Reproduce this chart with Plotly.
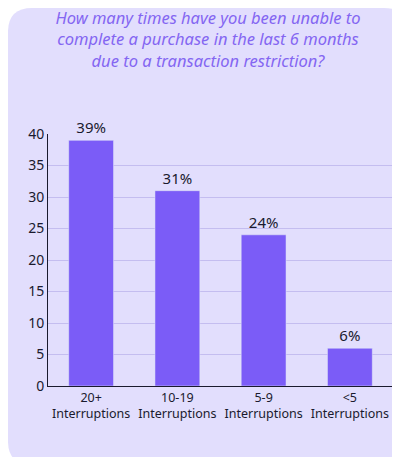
import plotly.graph_objects as go

categories = ["20+<br>Interruptions", "10-19<br>Interruptions", "5-9<br>Interruptions", "<5<br>Interruptions"]
values = [39, 31, 24, 6]
labels = ["39%", "31%", "24%", "6%"]
yticks = [0, 5, 10, 15, 20, 25, 30, 35, 40]

fig = go.Figure(go.Bar(
    x=categories, y=values, text=labels, textposition="outside",
    textfont=dict(size=15, color="#1a1a2e", family="Noto Sans"),
    marker_color="#7b5cf7", width=0.52, cliponaxis=False,
))
# card background in paper coords covering the whole figure
x0, x1, y0, y1 = -0.116, 1.0435, -0.3135, 1.5
rx, ry = 0.07, 0.096
path = (f"M {x0+rx} {y0} L {x1-rx} {y0} Q {x1} {y0} {x1} {y0+ry} L {x1} {y1-ry} "
        f"Q {x1} {y1} {x1-rx} {y1} L {x0+rx} {y1} Q {x0} {y1} {x0} {y1-ry} "
        f"L {x0} {y0+ry} Q {x0} {y0} {x0+rx} {y0} Z")
fig.add_shape(type="path", xref="paper", yref="paper", layer="below",
              path=path, fillcolor="#e2defd", line_width=0)
fig.update_layout(
    width=400, height=457, paper_bgcolor="white", plot_bgcolor="rgba(0,0,0,0)",
    margin=dict(l=40, r=15, t=126, b=79, autoexpand=False),
    title=dict(text="<i>How many times have you been unable to<br>complete a purchase in the last 6 months<br>due to a transaction restriction?</i>",
               x=0.5, xanchor="center", y=0.965, yanchor="top",
               font=dict(size=16.5, color="#8466f2", family="Noto Sans")),
    showlegend=False, bargap=0.48,
    font=dict(family="Noto Sans", color="#1a1a2e", size=14),
)
fig.update_yaxes(range=[0, 40], tickvals=yticks, gridcolor="#c4bdf0", gridwidth=1,
                 zeroline=False, showline=True, linecolor="#1a1a2e", linewidth=1,
                 ticks="", tickfont=dict(size=14), automargin=False)
fig.update_xaxes(showline=True, linecolor="#1a1a2e", linewidth=1, tickangle=0,
                 tickfont=dict(size=12.5), automargin=False)
fig.write_html("out.html")
